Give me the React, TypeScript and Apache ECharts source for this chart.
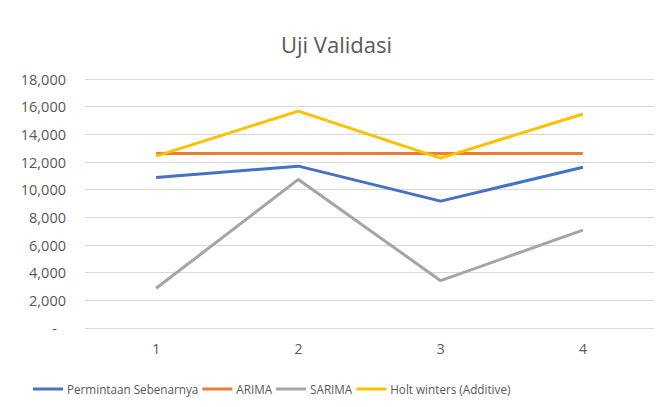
import React, { useEffect, useRef } from "react";
import * as echarts from "echarts";

const categories = ["1", "2", "3", "4"];
const permintaan = [10880, 11700, 9170, 11620];
const arima = [12620, 12620, 12620, 12620];
const sarima = [2870, 10740, 3420, 7080];
const holtWinters = [12420, 15680, 12280, 15470];
const seriesNames = ["Permintaan Sebenarnya", "ARIMA", "SARIMA", "Holt winters (Additive)"];
const colors = ["#4472C4", "#ED7D31", "#A5A5A5", "#FFC000"];

export default function App() {
  const ref = useRef<HTMLDivElement>(null);
  useEffect(() => {
    if (!ref.current) return;
    const chart = echarts.init(ref.current, undefined, { renderer: "svg" });
    const font = "'Open Sans', 'Noto Sans', sans-serif";
    const data = [permintaan, arima, sarima, holtWinters];
    chart.setOption({
      animation: false,
      backgroundColor: "#ffffff",
      title: {
        text: "Uji Validasi",
        left: 276,
        top: 28,
        textStyle: { fontFamily: font, fontSize: 22, fontWeight: "normal", color: "#595959" },
      },
      grid: { left: 85, right: 2, top: 79, bottom: 79, containLabel: false },
      legend: {
        data: seriesNames,
        top: 383,
        left: 33,
        padding: 0,
        icon: "rect",
        itemWidth: 30,
        itemHeight: 3,
        itemGap: 4,
        textStyle: { fontFamily: font, fontSize: 11.7, color: "#595959", padding: [0, 0, 0, -1] },
      },
      xAxis: {
        type: "category",
        data: categories,
        boundaryGap: true,
        axisLine: { show: false },
        axisTick: { show: false },
        axisLabel: { fontFamily: font, fontSize: 14, color: "#595959", margin: 13 },
      },
      yAxis: {
        type: "value",
        min: 0,
        max: 18000,
        interval: 2000,
        axisLine: { show: false },
        axisTick: { show: false },
        splitLine: { lineStyle: { color: "#D9D9D9", width: 1 } },
        axisLabel: {
          fontFamily: font,
          fontSize: 14.5,
          color: "#595959",
          margin: 19,
          formatter: (v: number) => (v === 0 ? "{dash|-}" : v.toLocaleString("en-US")),
          rich: { dash: { fontFamily: font, fontSize: 14.5, color: "#595959", padding: [0, 9, 0, 0] } },
        },
      },
      series: seriesNames.map((name, i) => ({
        name,
        type: "line",
        data: data[i],
        symbol: "none",
        color: colors[i],
        lineStyle: { width: 3, color: colors[i] },
        itemStyle: { color: colors[i] },
      })),
    });
    return () => chart.dispose();
  }, []);
  return <div ref={ref} style={{ width: 656, height: 407, position: "absolute", left: 0, top: 0 }} />;
}
